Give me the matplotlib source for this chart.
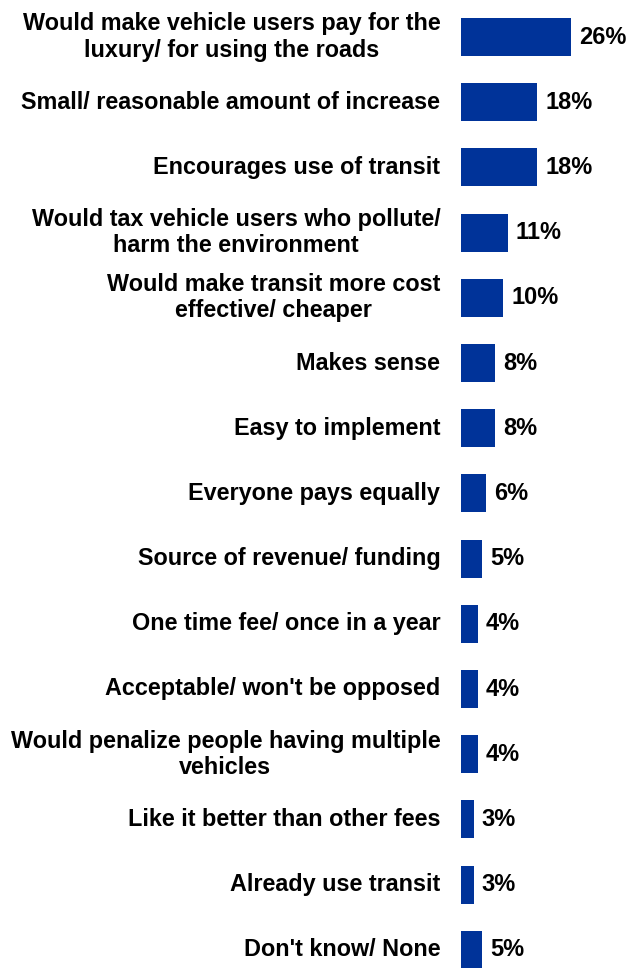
import matplotlib
matplotlib.use("Agg")
import matplotlib.pyplot as plt

### Reasons given for supporting the fee, share of respondents (%).
reasons = [
    "Would make vehicle users pay for the\nluxury/ for using the roads",
    "Small/ reasonable amount of increase",
    "Encourages use of transit",
    "Would tax vehicle users who pollute/\nharm the environment",
    "Would make transit more cost\neffective/ cheaper",
    "Makes sense",
    "Easy to implement",
    "Everyone pays equally",
    "Source of revenue/ funding",
    "One time fee/ once in a year",
    "Acceptable/ won't be opposed",
    "Would penalize people having multiple\nvehicles",
    "Like it better than other fees",
    "Already use transit",
    "Don't know/ None",
]
percents = [26, 18, 18, 11, 10, 8, 8, 6, 5, 4, 4, 4, 3, 3, 5]

plt.rcParams["font.family"] = ["Liberation Sans", "DejaVu Sans"]

fig = plt.figure(figsize=(6.33, 9.68), dpi=100)
ax = fig.add_axes([461 / 633, 0.0, 172 / 633, 1.0])

pos = list(range(len(reasons)))
ax.barh(pos, percents, height=0.58, color="#003399")

# Value labels to the right of each bar.
for p, v in zip(pos, percents):
    ax.text(v + 1.9, p, "%d%%" % v, va="center", ha="left",
            fontsize=17, fontweight="bold", color="black")

# Category labels to the left of the axes, right-aligned, lines centred.
for p, lab in zip(pos, reasons):
    ax.text(-4.9, p, lab, va="center", ha="right", multialignment="center",
            fontsize=16.8, fontweight="bold", color="black", linespacing=1.18)

ax.set_xlim(0, 172 / 4.23)
ax.set_ylim((968 - 37) / 65.2, -37 / 65.2)
ax.axis("off")

fig.savefig("out.png", dpi=100)
